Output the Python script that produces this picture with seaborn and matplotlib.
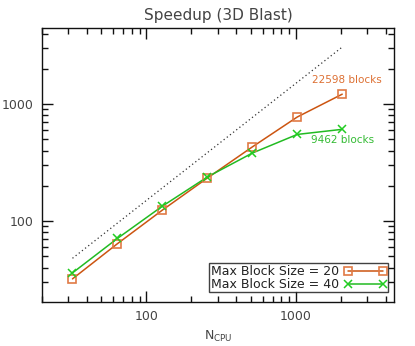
import numpy as np
import pandas as pd
import matplotlib
matplotlib.use("Agg")
import matplotlib.pyplot as plt
import seaborn as sns
from matplotlib.ticker import NullFormatter, FixedLocator, FixedFormatter
from matplotlib.lines import Line2D

ncpu = [32, 64, 128, 256, 512, 1024, 2048]
speedup_20 = [32, 64, 124, 233, 430, 775, 1215]
speedup_40 = [36, 71, 134, 238, 381, 550, 608]
ideal = [48, 3072]
ideal_x = [32, 2048]
series_names = ["Max Block Size = 20", "Max Block Size = 40"]
major_ticks = [100, 1000]
major_labels = ["100", "1000"]

sns.set_style("ticks")
plt.rcParams['font.family'] = ['DejaVu Sans']

fig = plt.figure(figsize=(4.15, 3.46), dpi=100)
ax = fig.add_axes([42/415, 1-302/346, (394-42)/415, (302-28)/346])
ax.set_xscale("log")
ax.set_yscale("log")

df = pd.DataFrame({
    "N": ncpu * 2,
    "S": speedup_20 + speedup_40,
    "series": [series_names[0]] * len(ncpu) + [series_names[1]] * len(ncpu),
})

ax.plot(ideal_x, ideal, linestyle=(0, (1, 2.2)), color="#333333", lw=0.9)

line_cols = {series_names[0]: "#cc5511", series_names[1]: "#22bb22"}
sns.lineplot(data=df, x="N", y="S", hue="series", palette=line_cols, ax=ax,
             legend=False, lw=1.1)
ax.plot(ncpu, speedup_20, ls="none", marker="s", ms=5.8, mfc="none",
        mec="#e07a45", mew=1.2)
ax.plot(ncpu, speedup_40, ls="none", marker="x", ms=6, mec="#22cc22", mew=1.1)

ax.set_xlim(20, 4550)
ax.set_ylim(20.3, 4470)

ax.set_xlabel(r"N$_{\mathregular{CPU}}$", color="#444444", fontsize=9, labelpad=4)
ax.set_ylabel("")
ax.set_title("Speedup (3D Blast)", color="#444444", fontsize=11, pad=6)

ax.text(2200, 1600, "22598 blocks", color="#dd7033", fontsize=7.5, ha="center", va="center")
ax.text(2050, 490, "9462 blocks", color="#33bb33", fontsize=7.5, ha="center", va="center")

h1 = Line2D([], [], color="#cc5511", lw=1.1, marker="s", ms=5.8, mfc="none", mec="#e07a45", mew=1.2)
h2 = Line2D([], [], color="#22bb22", lw=1.1, marker="x", ms=6, mec="#22cc22", mew=1.1)
leg = ax.legend([h1, h2], series_names, loc="lower right", bbox_to_anchor=(0.983, 0.035),
                numpoints=2, markerfirst=False, handlelength=3.4, handletextpad=0.4,
                fontsize=9, frameon=True, fancybox=False, borderpad=0.12,
                labelspacing=0.0, borderaxespad=0)
leg.get_frame().set_edgecolor("#111111")
leg.get_frame().set_linewidth(1.0)
for t in leg.get_texts():
    t.set_color("#222222")

for s in ax.spines.values():
    s.set_visible(True)
    s.set_linewidth(1.0)
    s.set_color("#111111")

minor = [m * 10**e for e in range(1, 4) for m in range(2, 10)]
for a in (ax.xaxis, ax.yaxis):
    a.set_major_locator(FixedLocator(major_ticks))
    a.set_major_formatter(FixedFormatter(major_labels))
    a.set_minor_locator(FixedLocator(minor))
    a.set_minor_formatter(NullFormatter())
ax.tick_params(which="both", direction="in", top=True, right=True, bottom=True, left=True,
               color="#111111", width=1.0, labelcolor="#444444", labelsize=9)
ax.tick_params(which="major", length=8, pad=6)
ax.tick_params(which="minor", length=4)

fig.savefig("out.png", dpi=100)
